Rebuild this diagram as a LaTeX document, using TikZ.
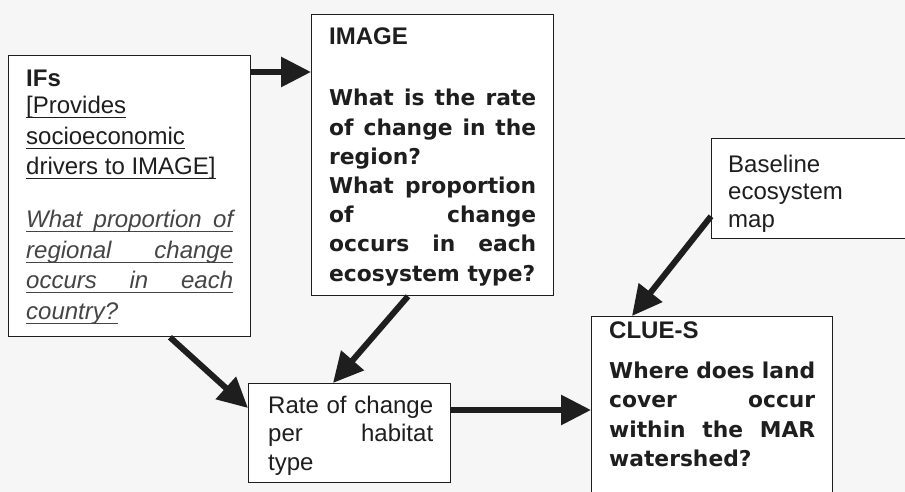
\documentclass[tikz,border=0pt]{standalone}
\usepackage{fontspec}
\setmainfont{Liberation Sans}
\newfontfamily\verd{DejaVu Sans}
\usetikzlibrary{arrows.meta,calc}
\definecolor{bgc}{HTML}{F6F6F6}
\definecolor{ink}{HTML}{1E1E1E}
\definecolor{ital}{HTML}{454545}
\newcommand\myul[1]{\setbox0\hbox{#1}\rlap{\rule[-4.5pt]{\wd0}{1.2pt}}\box0}
\newcommand\jl[1]{\makebox[\linewidth][s]{#1}}
\begin{document}
\begin{tikzpicture}[x=1pt,y=-1pt,
  box/.style={draw=ink, line width=1.3pt, fill=white, inner sep=0pt, anchor=north west},
  txt/.style={anchor=base west, inner sep=0pt, text=ink},
  arr/.style={draw=ink, line width=6pt, -{Triangle[length=30pt,width=29pt]}}]
\useasboundingbox (0,0) rectangle (905,492);
\fill[bgc] (0,0) rectangle (905,492);
\clip (0,0) rectangle (905,492);
% boxes
\node[box, minimum width=242pt, minimum height=281pt] (ifs) at (8,55) {};
\node[box, minimum width=242pt, minimum height=281pt] (img) at (311,14) {};
\node[box, minimum width=220pt, minimum height=100pt] (base) at (711,138) {};
\node[box, minimum width=241pt, minimum height=200pt] (clue) at (591,316) {};
\node[box, minimum width=202pt, minimum height=99pt] (rate) at (248,383) {};
% texts
\node[txt] (ifst) at (26,87) {\parbox[t]{207pt}{\fontsize{24}{30.5}\selectfont
\textbf{IFs}\\[-3.5pt]
\myul{[Provides}\\
\myul{socioeconomic}\\
\myul{drivers to IMAGE]}\\[22.5pt]
{\itshape\color{ital}\myul{\jl{What proportion of}}\\
\myul{\jl{regional change}}\\
\myul{\jl{occurs in each}}\\
\myul{country?}}}};
\node[txt] (imgt) at (329,45) {\parbox[t]{207pt}{\fontsize{24}{29.2}\selectfont
\textbf{IMAGE}\\[31.8pt]
\verd\bfseries\fontsize{21.8}{29.2}\selectfont
\jl{What is the rate}\\
\jl{of change in the}\\
region?\\
\jl{What proportion}\\
\jl{of change}\\
\jl{occurs in each}\\
ecosystem type?}};
\node[txt] (cluet) at (609,338) {\parbox[t]{206pt}{\fontsize{24}{29.6}\selectfont
\textbf{CLUE-S}\\[10.4pt]
\verd\bfseries\fontsize{21.8}{29.6}\selectfont
\jl{Where does land}\\
\jl{cover occur}\\
\jl{within the MAR}\\
watershed?}};
\node[txt] (ratet) at (268,413) {\parbox[t]{165pt}{\fontsize{24}{28.5}\selectfont
\jl{Rate of change}\\
\jl{per habitat}\\
type}};
\node[txt] (baset) at (728,172) {\parbox[t]{160pt}{\fontsize{24}{27.5}\selectfont
Baseline\\
ecosystem\\
map}};
% connectors
\path ($(ifs.north east)+(0,17)$) coordinate (a1);
\draw[arr] (a1) -- (img.west |- a1);
\draw[arr] ($(ifs.south west)+(162,0)$) -- ($(rate.north west)+(0,25)$);
\draw[arr] ($(img.south west)+(97,0)$) -- ($(rate.north west)+(85,0)$);
\path ($(rate.north east)+(0,27)$) coordinate (a4);
\draw[arr] (a4) -- (clue.west |- a4);
\draw[arr] ($(base.south west)+(0,-23)$) -- ($(clue.north west)+(41,0)$);
\end{tikzpicture}
\end{document}
